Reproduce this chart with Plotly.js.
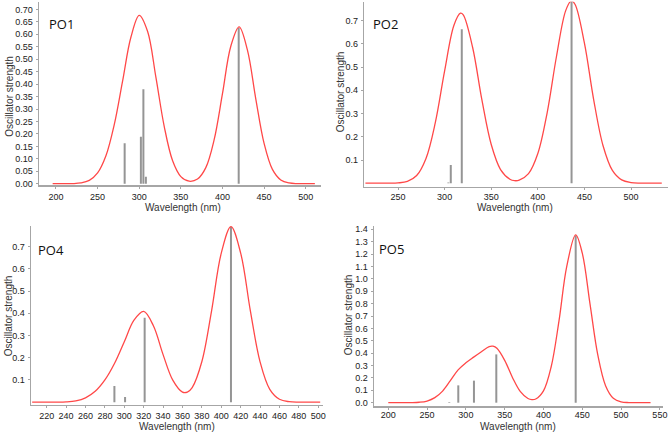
<!DOCTYPE html>
<html>
<head>
<meta charset="utf-8">
<script src="https://cdn.plot.ly/plotly-3.0.1.min.js"></script>
<style>
  html, body { margin: 0; padding: 0; background: #fff; }
  #chart { width: 671px; height: 432px; }
</style>
</head>
<body>
<div id="chart"></div>
<script>
// ---- PO1 ----
const po1Wavelength = [196, 210, 220, 230, 240, 250, 260, 270, 280, 290, 300, 310, 320, 330, 340, 350, 360, 370, 380, 390, 400, 410, 420, 430, 440, 450, 460, 470, 480, 490, 500, 511];
const po1Spectrum   = [0, 0.0001, 0.0005, 0.0031, 0.0131, 0.0431, 0.112, 0.237, 0.412, 0.588, 0.676, 0.612, 0.428, 0.2306, 0.0932, 0.0286, 0.0100, 0.0186, 0.0646, 0.1767, 0.3615, 0.5522, 0.63, 0.5363, 0.341, 0.1618, 0.0574, 0.0152, 0.003, 0.0004, 0, 0];
const po1StickNm    = [282.5, 302, 305, 308, 419.5];
const po1StickF     = [0.162, 0.189, 0.379, 0.028, 0.625];
const po1YTicks     = [0, 0.05, 0.10, 0.15, 0.20, 0.25, 0.30, 0.35, 0.40, 0.45, 0.50, 0.55, 0.60, 0.65, 0.70];
const po1XTicks     = [200, 250, 300, 350, 400, 450, 500];

// ---- PO2 ----
const po2Wavelength = [215, 230, 240, 250, 260, 270, 280, 290, 300, 310, 317, 320, 330, 340, 350, 360, 370, 375, 380, 390, 400, 410, 420, 430, 436, 440, 450, 460, 470, 480, 490, 500, 510, 520, 533];
const po2Spectrum   = [0, 0, 0.0002, 0.0014, 0.0077, 0.033, 0.1066, 0.2607, 0.4836, 0.680, 0.732, 0.7247, 0.5855, 0.3585, 0.1665, 0.0589, 0.0174, 0.0110, 0.0131, 0.0413, 0.1278, 0.3034, 0.5457, 0.7444, 0.785, 0.7695, 0.603, 0.3582, 0.1613, 0.0551, 0.0142, 0.0028, 0.0004, 0, 0];
const po2StickNm    = [304, 306.6, 318.4, 436.2];
const po2StickF     = [0.003, 0.078, 0.663, 0.785];
const po2YTicks     = [0.1, 0.2, 0.3, 0.4, 0.5, 0.6, 0.7];
const po2XTicks     = [250, 300, 350, 400, 450, 500];

// ---- PO4 ----
const po4Wavelength = [205, 220, 230, 240, 250, 260, 270, 280, 290, 300, 310, 320, 330, 340, 350, 360, 365, 370, 380, 390, 400, 410, 420, 430, 440, 450, 460, 470, 480, 490, 502];
const po4Spectrum   = [0, 0.0001, 0.0003, 0.0013, 0.0059, 0.0195, 0.0488, 0.100, 0.175, 0.272, 0.369, 0.4085, 0.3438, 0.2142, 0.099, 0.0451, 0.0451, 0.0655, 0.183, 0.4114, 0.671, 0.79, 0.671, 0.4112, 0.1818, 0.058, 0.0133, 0.0022, 0.0003, 0, 0];
const po4StickNm    = [289.8, 300.8, 321, 410];
const po4StickF     = [0.073, 0.023, 0.38, 0.79];
const po4YTicks     = [0.1, 0.2, 0.3, 0.4, 0.5, 0.6, 0.7];
const po4XTicks     = [220, 240, 260, 280, 300, 320, 340, 360, 380, 400, 420, 440, 460, 480, 500];

// ---- PO5 ----
const po5Wavelength = [200, 230, 240, 250, 260, 270, 280, 290, 300, 310, 320, 330, 335, 340, 350, 360, 370, 380, 385, 390, 400, 410, 420, 430, 441.5, 450, 460, 470, 480, 490, 500, 510, 520, 538];
const po5Spectrum   = [0, 0.0005, 0.0035, 0.0136, 0.0407, 0.0936, 0.178, 0.265, 0.322, 0.368, 0.412, 0.453, 0.456, 0.439, 0.342, 0.204, 0.0914, 0.0338, 0.0251, 0.0298, 0.0959, 0.2922, 0.6615, 1.1008, 1.355, 1.2076, 0.7961, 0.3854, 0.137, 0.0358, 0.0069, 0.001, 0.0001, 0];
const po5StickNm    = [278.6, 290.2, 310.4, 339.2, 441.5];
const po5StickF     = [0.005, 0.14, 0.178, 0.39, 1.35];
const po5YTicks     = [0, 0.1, 0.2, 0.3, 0.4, 0.5, 0.6, 0.7, 0.8, 0.9, 1.0, 1.1, 1.2, 1.3, 1.4];
const po5XTicks     = [200, 250, 300, 350, 400, 450, 500, 550];

const panelNames = ['PO1', 'PO2', 'PO4', 'PO5'];

const curveColor = 'rgb(255,72,72)';
const stickColor = '#959595';
const axisColor  = '#a6a6a6';
const tickFont   = { family: 'Liberation Sans, Arial, sans-serif', size: 9, color: '#222' };
const titleFont  = { family: 'Liberation Sans, Arial, sans-serif', size: 10, color: '#333' };

// vertical stick per transition, from zero up to its oscillator strength
function sticks(nm, f, xa, ya) {
  const x = [], y = [];
  nm.forEach((w, i) => { x.push(w, w, null); y.push(0, f[i], null); });
  return { type: 'scatter', mode: 'lines', x, y, xaxis: xa, yaxis: ya,
           line: { color: stickColor, width: 2 }, hoverinfo: 'skip', showlegend: false };
}
function curve(wl, s, xa, ya) {
  return { type: 'scatter', mode: 'lines', x: wl, y: s, xaxis: xa, yaxis: ya,
           line: { color: curveColor, width: 1.3, shape: 'spline', smoothing: 1 },
           hoverinfo: 'skip', showlegend: false };
}

const data = [
  sticks(po1StickNm, po1StickF, 'x', 'y'),   curve(po1Wavelength, po1Spectrum, 'x', 'y'),
  sticks(po2StickNm, po2StickF, 'x2', 'y2'), curve(po2Wavelength, po2Spectrum, 'x2', 'y2'),
  sticks(po4StickNm, po4StickF, 'x3', 'y3'), curve(po4Wavelength, po4Spectrum, 'x3', 'y3'),
  sticks(po5StickNm, po5StickF, 'x4', 'y4'), curve(po5Wavelength, po5Spectrum, 'x4', 'y4')
];

function xAxis(domain, range, ticks, anchor, standoff) {
  return { domain, range, anchor, tickvals: ticks, ticktext: ticks.map(String),
           showline: true, linecolor: axisColor, linewidth: 1.5, ticks: 'outside',
           ticklen: 2, tickcolor: axisColor, showgrid: false, zeroline: false,
           ticklabelstandoff: standoff, tickfont: tickFont, fixedrange: true };
}
function yAxis(domain, range, ticks, digits, anchor) {
  return { domain, range, anchor, tickvals: ticks, ticktext: ticks.map(v => v.toFixed(digits)),
           showline: true, linecolor: axisColor, linewidth: 1.5, ticks: 'outside',
           ticklen: 2, tickcolor: axisColor, showgrid: false, zeroline: false,
           ticklabelstandoff: 1, tickfont: tickFont, fixedrange: true };
}

const W = 671, H = 432;
const px = (a, b) => [a / W, b / W];
const py = (top, bottom) => [1 - bottom / H, 1 - top / H];

const layout = {
  width: W, height: H,
  margin: { l: 0, r: 0, t: 0, b: 0 },
  paper_bgcolor: '#fff', plot_bgcolor: '#fff',
  showlegend: false,
  xaxis:  xAxis(px(39, 320.7),  [179.6, 518],  po1XTicks, 'y', 0),
  yaxis:  yAxis(py(1.7, 185.3), [-0.0064, 0.731], po1YTicks, 2, 'x'),
  xaxis2: xAxis(px(364.3, 668.3), [213.8, 540], po2XTicks, 'y2', -1),
  yaxis2: yAxis(py(1.7, 186.7), [-0.015, 0.7817], po2YTicks, 1, 'x2'),
  xaxis3: xAxis(px(31, 323.3),  [203.8, 505.2], po4XTicks, 'y3', 0),
  yaxis3: yAxis(py(226, 404.7), [-0.0113, 0.793], po4YTicks, 1, 'x3'),
  xaxis4: xAxis(px(374, 663.3), [181.6, 554.4], po5XTicks, 'y4', -2),
  yaxis4: yAxis(py(226, 406),   [-0.0267, 1.427], po5YTicks, 1, 'x4'),
  annotations: []
};

// panel names
const labelPos = [[46.7, 24.3], [371, 24.3], [36, 249.5], [376.7, 249.3]];
// axis title positions (centre, px)
const xTitlePos = [[183.3, 207.5], [515, 208], [176.7, 426], [518.3, 426.3]];
const yTitlePos = [[10, 96.7], [340, 92.3], [8.3, 316], [348.3, 315]];

panelNames.forEach((name, i) => {
  layout.annotations.push({
    xref: 'paper', yref: 'paper', x: labelPos[i][0] / W, y: 1 - labelPos[i][1] / H,
    xanchor: 'left', yanchor: 'middle', showarrow: false, text: name,
    font: { family: 'Open Sans, sans-serif', size: 13, color: '#111' }
  });
  layout.annotations.push({
    xref: 'paper', yref: 'paper', x: xTitlePos[i][0] / W, y: 1 - xTitlePos[i][1] / H,
    xanchor: 'center', yanchor: 'middle', showarrow: false, text: 'Wavelength (nm)',
    font: titleFont, borderpad: 0
  });
  layout.annotations.push({
    xref: 'paper', yref: 'paper', x: yTitlePos[i][0] / W, y: 1 - yTitlePos[i][1] / H,
    xanchor: 'center', yanchor: 'middle', showarrow: false, text: 'Oscillator strength',
    textangle: -90, font: titleFont, borderpad: 0
  });
});

Plotly.newPlot('chart', data, layout, { displayModeBar: false, staticPlot: true });
</script>
</body>
</html>
